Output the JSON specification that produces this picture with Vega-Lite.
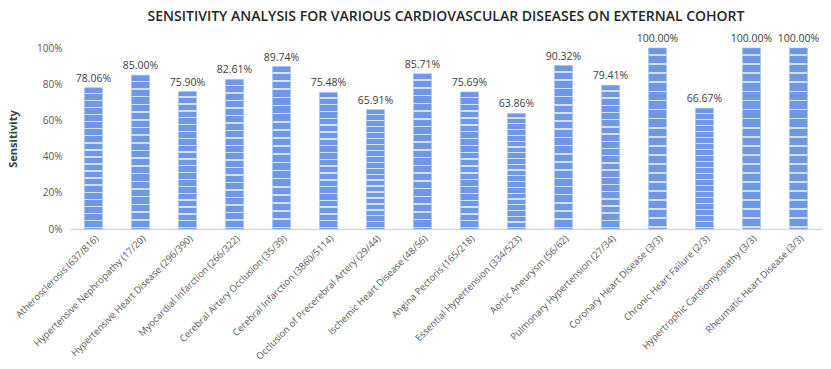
{
  "$schema": "https://vega.github.io/schema/vega-lite/v6.json",
  "width": 752,
  "height": 181,
  "autosize": "none",
  "padding": {"left": 70, "top": 48, "right": 9, "bottom": 140},
  "background": "white",
  "title": {
    "text": "SENSITIVITY ANALYSIS FOR VARIOUS CARDIOVASCULAR DISEASES ON EXTERNAL COHORT",
    "font": "Open Sans",
    "fontSize": 14,
    "fontWeight": 600,
    "color": "#262626",
    "anchor": "middle",
    "offset": 10
  },
  "config": {
    "view": {"stroke": null},
    "font": "Open Sans"
  },
  "data": {
    "values": [
      {"disease": "Atherosclerosis (637/816)", "sensitivity": 0.7806},
      {"disease": "Hypertensive Nephropathy (17/20)", "sensitivity": 0.85},
      {"disease": "Hypertensive Heart Disease (296/390)", "sensitivity": 0.759},
      {"disease": "Myocardial Infarction (266/322)", "sensitivity": 0.8261},
      {"disease": "Cerebral Artery Occlusion (35/39)", "sensitivity": 0.8974},
      {"disease": "Cerebral Infarction (3860/5114)", "sensitivity": 0.7548},
      {"disease": "Occlusion of Precerebral Artery (29/44)", "sensitivity": 0.6591},
      {"disease": "Ischemic Heart Disease (48/56)", "sensitivity": 0.8571},
      {"disease": "Angina Pectoris (165/218)", "sensitivity": 0.7569},
      {"disease": "Essential Hypertension (334/523)", "sensitivity": 0.6386},
      {"disease": "Aortic Aneurysm (56/62)", "sensitivity": 0.9032},
      {"disease": "Pulmonary Hypertension (27/34)", "sensitivity": 0.7941},
      {"disease": "Coronary Heart Disease (3/3)", "sensitivity": 1.0},
      {"disease": "Chronic Heart Failure (2/3)", "sensitivity": 0.6667},
      {"disease": "Hypertrophic Cardiomyopathy (3/3)", "sensitivity": 1.0},
      {"disease": "Rheumatic Heart Disease (3/3)", "sensitivity": 1.0}
    ]
  },
  "encoding": {
    "x": {
      "field": "disease",
      "type": "nominal",
      "sort": null,
      "scale": {"paddingInner": 0.62, "paddingOuter": 0.31},
      "axis": {
        "title": null,
        "labelAngle": -45,
        "labelFont": "Open Sans",
        "labelFontSize": 9.5,
        "labelColor": "#595959",
        "labelLimit": 300,
        "labelPadding": 4,
        "ticks": false,
        "domainColor": "#d9d9d9",
        "domainWidth": 1.5
      }
    },
    "y": {
      "field": "sensitivity",
      "type": "quantitative",
      "scale": {"domain": [0, 1]},
      "axis": {
        "title": "Sensitivity",
        "titleFont": "Open Sans",
        "titleFontSize": 11,
        "titleFontWeight": "bold",
        "titleColor": "#404040",
        "titlePadding": 18,
        "format": ".0%",
        "values": [0, 0.2, 0.4, 0.6, 0.8, 1],
        "labelFont": "Open Sans",
        "labelFontSize": 10,
        "labelColor": "#595959",
        "labelPadding": 8,
        "ticks": false,
        "domain": false,
        "grid": false
      }
    }
  },
  "layer": [
    {
      "mark": {
        "type": "bar",
        "stroke": "#9db8ef",
        "strokeWidth": 0.6,
        "color": {
          "gradient": "linear",
          "x1": 0, "y1": 0, "x2": 0, "y2": 1,
          "stops": [
            {"offset": 0, "color": "#6f97e5"},
            {"offset": 0.035, "color": "#6f97e5"}, {"offset": 0.035, "color": "#d3e0f9"}, {"offset": 0.045, "color": "#d3e0f9"}, {"offset": 0.045, "color": "#6f97e5"},
            {"offset": 0.085, "color": "#6f97e5"}, {"offset": 0.085, "color": "#d3e0f9"}, {"offset": 0.095, "color": "#d3e0f9"}, {"offset": 0.095, "color": "#6f97e5"},
            {"offset": 0.135, "color": "#6f97e5"}, {"offset": 0.135, "color": "#d3e0f9"}, {"offset": 0.145, "color": "#d3e0f9"}, {"offset": 0.145, "color": "#6f97e5"},
            {"offset": 0.185, "color": "#6f97e5"}, {"offset": 0.185, "color": "#d3e0f9"}, {"offset": 0.195, "color": "#d3e0f9"}, {"offset": 0.195, "color": "#6f97e5"},
            {"offset": 0.235, "color": "#6f97e5"}, {"offset": 0.235, "color": "#d3e0f9"}, {"offset": 0.245, "color": "#d3e0f9"}, {"offset": 0.245, "color": "#6f97e5"},
            {"offset": 0.285, "color": "#6f97e5"}, {"offset": 0.285, "color": "#d3e0f9"}, {"offset": 0.295, "color": "#d3e0f9"}, {"offset": 0.295, "color": "#6f97e5"},
            {"offset": 0.335, "color": "#6f97e5"}, {"offset": 0.335, "color": "#d3e0f9"}, {"offset": 0.345, "color": "#d3e0f9"}, {"offset": 0.345, "color": "#6f97e5"},
            {"offset": 0.385, "color": "#6f97e5"}, {"offset": 0.385, "color": "#d3e0f9"}, {"offset": 0.395, "color": "#d3e0f9"}, {"offset": 0.395, "color": "#6f97e5"},
            {"offset": 0.435, "color": "#6f97e5"}, {"offset": 0.435, "color": "#d3e0f9"}, {"offset": 0.445, "color": "#d3e0f9"}, {"offset": 0.445, "color": "#6f97e5"},
            {"offset": 0.485, "color": "#6f97e5"}, {"offset": 0.485, "color": "#d3e0f9"}, {"offset": 0.495, "color": "#d3e0f9"}, {"offset": 0.495, "color": "#6f97e5"},
            {"offset": 0.535, "color": "#6f97e5"}, {"offset": 0.535, "color": "#d3e0f9"}, {"offset": 0.545, "color": "#d3e0f9"}, {"offset": 0.545, "color": "#6f97e5"},
            {"offset": 0.585, "color": "#6f97e5"}, {"offset": 0.585, "color": "#d3e0f9"}, {"offset": 0.595, "color": "#d3e0f9"}, {"offset": 0.595, "color": "#6f97e5"},
            {"offset": 0.635, "color": "#6f97e5"}, {"offset": 0.635, "color": "#d3e0f9"}, {"offset": 0.645, "color": "#d3e0f9"}, {"offset": 0.645, "color": "#6f97e5"},
            {"offset": 0.685, "color": "#6f97e5"}, {"offset": 0.685, "color": "#d3e0f9"}, {"offset": 0.695, "color": "#d3e0f9"}, {"offset": 0.695, "color": "#6f97e5"},
            {"offset": 0.735, "color": "#6f97e5"}, {"offset": 0.735, "color": "#d3e0f9"}, {"offset": 0.745, "color": "#d3e0f9"}, {"offset": 0.745, "color": "#6f97e5"},
            {"offset": 0.785, "color": "#6f97e5"}, {"offset": 0.785, "color": "#d3e0f9"}, {"offset": 0.795, "color": "#d3e0f9"}, {"offset": 0.795, "color": "#6f97e5"},
            {"offset": 0.835, "color": "#6f97e5"}, {"offset": 0.835, "color": "#d3e0f9"}, {"offset": 0.845, "color": "#d3e0f9"}, {"offset": 0.845, "color": "#6f97e5"},
            {"offset": 0.885, "color": "#6f97e5"}, {"offset": 0.885, "color": "#d3e0f9"}, {"offset": 0.895, "color": "#d3e0f9"}, {"offset": 0.895, "color": "#6f97e5"},
            {"offset": 0.935, "color": "#6f97e5"}, {"offset": 0.935, "color": "#d3e0f9"}, {"offset": 0.945, "color": "#d3e0f9"}, {"offset": 0.945, "color": "#6f97e5"},
            {"offset": 0.985, "color": "#6f97e5"}, {"offset": 0.985, "color": "#d3e0f9"}, {"offset": 0.995, "color": "#d3e0f9"}, {"offset": 0.995, "color": "#6f97e5"},
            {"offset": 1, "color": "#6f97e5"}
          ]
        }
      }
    },
    {
      "mark": {
        "type": "text",
        "dy": -9,
        "font": "Open Sans",
        "fontSize": 10.5,
        "color": "#404040"
      },
      "encoding": {
        "text": {"field": "sensitivity", "type": "quantitative", "format": ".2%"}
      }
    }
  ]
}
